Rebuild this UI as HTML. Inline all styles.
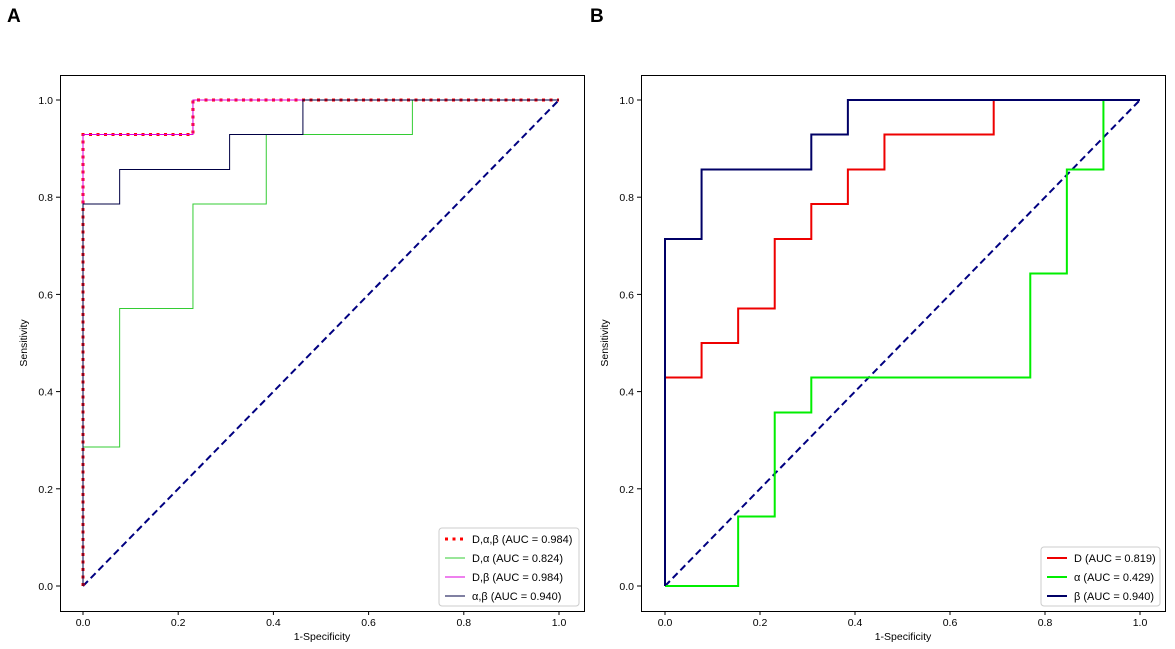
<!DOCTYPE html>
<html><head><meta charset="utf-8"><style>
body{margin:0;background:#fff;font-family:"Liberation Sans",sans-serif}
svg{display:block}
text{font-family:"Liberation Sans","DejaVu Sans",sans-serif}
</style></head><body>
<svg id="c" width="1175" height="649"></svg>
<script>
const ticks=[0,0.2,0.4,0.6,0.8,1.0];
const tickLabels=["0.0","0.2","0.4","0.6","0.8","1.0"];
const aDAB_x=[0,0,0.231,0.231,1], aDAB_y=[0,0.929,0.929,1,1];
const aDA_x=[0,0,0.077,0.077,0.231,0.231,0.385,0.385,0.692,0.692,1], aDA_y=[0,0.286,0.286,0.571,0.571,0.786,0.786,0.929,0.929,1,1];
const aAB_x=[0,0,0.077,0.077,0.308,0.308,0.462,0.462,1], aAB_y=[0,0.786,0.786,0.857,0.857,0.929,0.929,1,1];
const bD_x=[0,0,0.077,0.077,0.154,0.154,0.231,0.231,0.308,0.308,0.385,0.385,0.462,0.462,0.692,0.692,1], bD_y=[0,0.429,0.429,0.5,0.5,0.571,0.571,0.714,0.714,0.786,0.786,0.857,0.857,0.929,0.929,1,1];
const bA_x=[0,0.154,0.154,0.231,0.231,0.308,0.308,0.769,0.769,0.846,0.846,0.923,0.923,1], bA_y=[0,0,0.143,0.143,0.357,0.357,0.429,0.429,0.643,0.643,0.857,0.857,1,1];
const bB_x=[0,0,0.077,0.077,0.308,0.308,0.385,0.385,1], bB_y=[0,0.714,0.714,0.857,0.857,0.929,0.929,1,1];
const legA=["D,α,β (AUC = 0.984)","D,α (AUC = 0.824)","D,β (AUC = 0.984)","α,β (AUC = 0.940)"];
const legB=["D (AUC = 0.819)","α (AUC = 0.429)","β (AUC = 0.940)"];
const NS="http://www.w3.org/2000/svg", svg=document.getElementById('c');
function el(t,a,p){const e=document.createElementNS(NS,t);for(const k in a)e.setAttribute(k,a[k]);(p||svg).appendChild(e);return e;}
function panel(name,L,R,X0,X1,series,leg,legX,legW){
  const g=el('g',{});
  
  
  const Y0=586,Y1=100,T=75,B=611;
  const sx=v=>X0+(X1-X0)*v, sy=v=>Y0+(Y1-Y0)*v;
  ticks.forEach((t,i)=>{
    el('line',{x1:sx(t),x2:sx(t),y1:B,y2:B+4,stroke:'#000'},g);
    const tx=el('text',{x:sx(t),y:B+15,'font-size':10.5,'text-anchor':'middle'},g);tx.textContent=tickLabels[i];
    
    
    el('line',{x1:L-4,x2:L,y1:sy(t),y2:sy(t),stroke:'#000'},g);
    const ty=el('text',{x:L-7,y:sy(t)+4,'font-size':10.5,'text-anchor':'end'},g);ty.textContent=tickLabels[i];
    
    
  });
  const xl=el('text',{x:(L+R)/2,y:B+29,'font-size':10.5,'text-anchor':'middle'},g);xl.textContent='1-Specificity';
  
  
  const yl=el('text',{x:0,y:0,'font-size':10.5,'text-anchor':'middle',transform:`translate(${L-33},${(T+B)/2}) rotate(-90)`},g);yl.textContent='Sensitivity';
  
  
  const d=el('line',{x1:sx(0),y1:sy(0),x2:sx(1),y2:sy(1),stroke:'#000080','stroke-width':2,'stroke-dasharray':'7,4'},g);
  
  
  series.forEach(s=>{
    const pts=s.x.map((v,i)=>sx(v)+','+sy(s.y[i])).join(' ');
    const p=el('polyline',{points:pts,fill:'none',stroke:s.c,'stroke-width':s.w,'stroke-dasharray':s.dash||'none'},g);
    
    
  });
  const fr=el('rect',{x:L+.5,y:T+.5,width:R-L,height:B-T,fill:'none',stroke:'#000','stroke-width':1},g);
  
  
  const lh=leg.length*19+2, ly=B-5-lh;
  const lg=el('g',{},g);
  
  
  el('rect',{x:legX,y:ly,width:legW,height:lh,rx:3,fill:'#fff',stroke:'#ccc'},lg);
  leg.forEach((t,i)=>{
    const s=series[i], yy=ly+11+i*19;
    el('line',{x1:legX+6,x2:legX+26,y1:yy,y2:yy,stroke:s.c,'stroke-width':s.w,'stroke-dasharray':s.dash||'none'},lg);
    const tt=el('text',{x:legX+33,y:yy+4,'font-size':11},lg);tt.textContent=t;
    
    
  });
}
panel('panel-a',60,584,83,559,[
  {x:aDAB_x,y:aDAB_y,c:'#ff0000',w:3,dash:'3,4.5',n:'curve-d-alpha-beta'},
  {x:aDA_x,y:aDA_y,c:'#33cc33',w:1,n:'curve-d-alpha'},
  {x:aDAB_x,y:aDAB_y,c:'#dd00dd',w:1,n:'curve-d-beta'},
  {x:aAB_x,y:aAB_y,c:'#000044',w:1,n:'curve-alpha-beta'}
],legA,439,140);
panel('panel-b',641,1165,665,1140,[
  {x:bD_x,y:bD_y,c:'#ee0000',w:2,n:'curve-d'},
  {x:bA_x,y:bA_y,c:'#00ee00',w:2,n:'curve-alpha'},
  {x:bB_x,y:bB_y,c:'#000066',w:2,n:'curve-beta'}
],legB,1041,119);
[['A',7],['B',590]].forEach(([t,x])=>{
  const e=el('text',{x:x,y:22,'font-size':19,'font-weight':'bold'});e.textContent=t;
  
  
});
</script>
</body></html>
